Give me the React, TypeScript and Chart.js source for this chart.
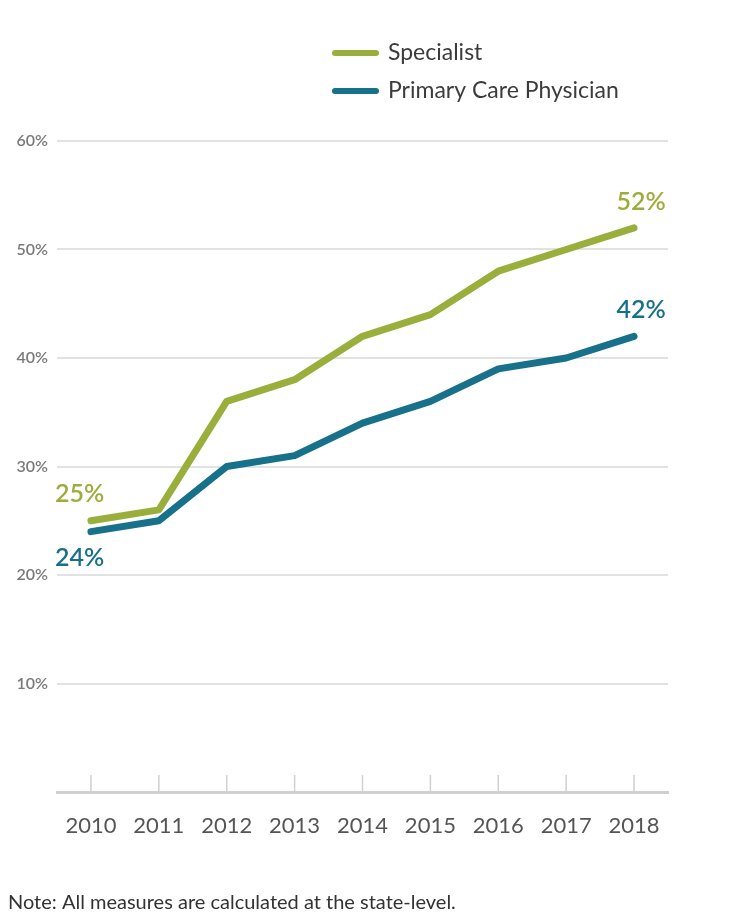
import React, { useEffect, useRef } from "react";
import { Chart, registerables } from "chart.js";

Chart.register(...registerables);

const years = ["2010", "2011", "2012", "2013", "2014", "2015", "2016", "2017", "2018"];
const specialist = [25, 26, 36, 38, 42, 44, 48, 50, 52];
const primaryCare = [24, 25, 30, 31, 34, 36, 39, 40, 42];
const seriesNames = ["Specialist", "Primary Care Physician"];
const seriesColors = ["#9aae3c", "#17718a"];
const yTicks = [0, 10, 20, 30, 40, 50, 60];
const noteText = "Note: All measures are calculated at the state-level.";

const FONT = "Lato, 'Open Sans', sans-serif";

const decorPlugin = {
  id: "decor",
  afterDatasetsDraw(chart: any) {
    const ctx = chart.ctx;
    const x = chart.scales.x;
    const area = chart.chartArea;
    // small tick marks above x axis
    ctx.save();
    ctx.strokeStyle = "#d0d0d0";
    ctx.lineWidth = 1.5;
    years.forEach((_, i) => {
      const px = x.getPixelForValue(i);
      ctx.beginPath();
      ctx.moveTo(px, area.bottom - 17);
      ctx.lineTo(px, area.bottom);
      ctx.stroke();
    });
    // data labels at first and last points
    ctx.font = `600 25px ${FONT}`;
    ctx.textBaseline = "middle";
    chart.data.datasets.forEach((ds: any, di: number) => {
      const meta = chart.getDatasetMeta(di);
      const first = meta.data[0];
      const last = meta.data[meta.data.length - 1];
      ctx.fillStyle = ds.borderColor;
      ctx.textAlign = "left";
      const fy = di === 0 ? first.y - 27 : first.y + 26;
      ctx.fillText(ds.data[0] + "%", first.x - 36, fy);
      ctx.textAlign = "center";
      ctx.fillText(ds.data[ds.data.length - 1] + "%", last.x + 7, last.y - 26);
    });
    // legend
    ctx.textAlign = "left";
    ctx.font = `23px ${FONT}`;
    chart.data.datasets.forEach((ds: any, di: number) => {
      const ly = 53 + di * 38;
      ctx.strokeStyle = ds.borderColor;
      ctx.lineWidth = 6;
      ctx.lineCap = "round";
      ctx.beginPath();
      ctx.moveTo(335, ly);
      ctx.lineTo(376, ly);
      ctx.stroke();
      ctx.fillStyle = "#3c3c3c";
      ctx.fillText(ds.label, 388, ly);
    });
    // note
    ctx.font = `20px ${FONT}`;
    ctx.fillStyle = "#333";
    ctx.fillText(noteText, 8, 903);
    ctx.restore();
  },
};

export default function App() {
  const ref = useRef<HTMLCanvasElement>(null);
  useEffect(() => {
    if (!ref.current) return;
    const chart = new Chart(ref.current, {
      type: "line",
      data: {
        labels: years,
        datasets: [
          {
            label: seriesNames[0],
            data: specialist,
            borderColor: seriesColors[0],
            backgroundColor: seriesColors[0],
            borderWidth: 7,
            pointRadius: 0,
            borderCapStyle: "round",
            borderJoinStyle: "round",
            tension: 0,
          },
          {
            label: seriesNames[1],
            data: primaryCare,
            borderColor: seriesColors[1],
            backgroundColor: seriesColors[1],
            borderWidth: 7,
            pointRadius: 0,
            borderCapStyle: "round",
            borderJoinStyle: "round",
            tension: 0,
          },
        ],
      },
      options: {
        animation: false,
        responsive: false,
        devicePixelRatio: 1,
        layout: { padding: { left: 0, right: 67, top: 141, bottom: 82 } },
        plugins: { legend: { display: false }, tooltip: { enabled: false } },
        scales: {
          x: {
            offset: true,
            afterFit: (s: any) => { s.height = 50; },
            grid: { display: false, drawTicks: false },
            border: { display: true, color: "#d0d0d0", width: 3 },
            ticks: { color: "#555", padding: 21, font: { family: FONT, size: 22 } },
          },
          y: {
            min: 0,
            max: 60,
            afterFit: (s: any) => { s.width = 57; },
            afterBuildTicks: (s: any) => { s.ticks = yTicks.map((v) => ({ value: v })); },
            border: { display: false },
            grid: {
              drawTicks: false,
              lineWidth: 2,
              color: (c: any) => (c.tick && c.tick.value === 0 ? "rgba(0,0,0,0)" : "#e2e2e2"),
            },
            ticks: {
              color: "#7a7a7a",
              padding: 9,
              font: { family: FONT, size: 16, weight: "600" },
              callback: (v: any) => (v === 0 ? "" : v + "%"),
            },
          },
        },
      },
      plugins: [decorPlugin],
    } as any);
    return () => chart.destroy();
  }, []);
  return (
    <canvas
      ref={ref}
      width={735}
      height={924}
      style={{ position: "absolute", left: 0, top: 0, width: 735, height: 924, background: "#fff" }}
    />
  );
}
